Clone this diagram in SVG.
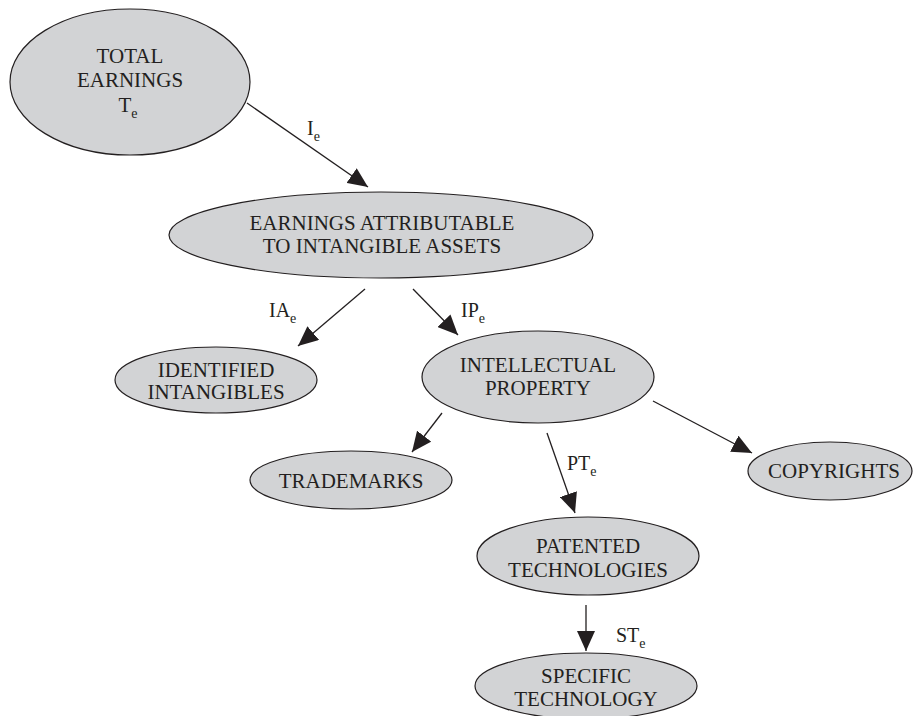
<svg xmlns="http://www.w3.org/2000/svg" width="914" height="716" viewBox="0 0 914 716">
  <style>
    .node ellipse { fill: #d2d3d5; stroke: #231f20; stroke-width: 1.2; }
    .edge { stroke: #231f20; stroke-width: 1.3; fill: none; marker-end: url(#head); }
  </style>
  <defs>
    <marker id="head" markerUnits="userSpaceOnUse" markerWidth="22" markerHeight="18" refX="20" refY="9" orient="auto">
      <path d="M0,0 L20,9 L0,18 Z" fill="#231f20"/>
    </marker>
  </defs>
  <rect width="914" height="716" fill="#ffffff"/>

  <!-- arrows and their share labels -->
  <g id="connectors">
    <line class="edge" x1="247" y1="103" x2="368" y2="187"/>
    <line class="edge" x1="365" y1="289" x2="298" y2="346"/>
    <line class="edge" x1="413" y1="289" x2="458" y2="335"/>
    <line class="edge" x1="442" y1="413" x2="412" y2="452"/>
    <line class="edge" x1="547" y1="433" x2="575" y2="513"/>
    <line class="edge" x1="653" y1="401" x2="752" y2="453"/>
    <line class="edge" x1="586" y1="605" x2="586" y2="651"/>
    <text x="307" y="135" font-family="Liberation Serif" font-size="20" fill="#231f20">I<tspan font-size="14" dy="6">e</tspan></text>
    <text x="269" y="317" font-family="Liberation Serif" font-size="20" fill="#231f20">IA<tspan font-size="14" dy="6">e</tspan></text>
    <text x="461" y="317" font-family="Liberation Serif" font-size="20" fill="#231f20">IP<tspan font-size="14" dy="6">e</tspan></text>
    <text x="567" y="470" font-family="Liberation Serif" font-size="20" fill="#231f20">PT<tspan font-size="14" dy="6">e</tspan></text>
    <text x="616" y="642" font-family="Liberation Serif" font-size="20" fill="#231f20">ST<tspan font-size="14" dy="6">e</tspan></text>
  </g>

  <g id="total-earnings" class="node">
    <ellipse cx="130" cy="82" rx="120" ry="73"/>
    <text x="130" y="63" font-family="Liberation Serif" font-size="21" fill="#231f20" text-anchor="middle">TOTAL</text>
    <text x="130" y="87" font-family="Liberation Serif" font-size="21" fill="#231f20" text-anchor="middle">EARNINGS</text>
    <text x="128" y="112" font-family="Liberation Serif" font-size="21" fill="#231f20" text-anchor="middle">T<tspan font-size="14" dy="6">e</tspan></text>
  </g>

  <g id="intangible-earnings" class="node">
    <ellipse cx="381" cy="235" rx="212" ry="43"/>
    <text x="382" y="230" font-family="Liberation Serif" font-size="21" fill="#231f20" text-anchor="middle">EARNINGS ATTRIBUTABLE</text>
    <text x="382" y="253" font-family="Liberation Serif" font-size="21" fill="#231f20" text-anchor="middle">TO INTANGIBLE ASSETS</text>
  </g>

  <g id="identified-intangibles" class="node">
    <ellipse cx="216" cy="380" rx="101" ry="33"/>
    <text x="216" y="377" font-family="Liberation Serif" font-size="21" fill="#231f20" text-anchor="middle">IDENTIFIED</text>
    <text x="216" y="399" font-family="Liberation Serif" font-size="21" fill="#231f20" text-anchor="middle">INTANGIBLES</text>
  </g>

  <g id="intellectual-property" class="node">
    <ellipse cx="538" cy="377" rx="116" ry="46"/>
    <text x="538" y="372" font-family="Liberation Serif" font-size="21" fill="#231f20" text-anchor="middle">INTELLECTUAL</text>
    <text x="538" y="395" font-family="Liberation Serif" font-size="21" fill="#231f20" text-anchor="middle">PROPERTY</text>
  </g>

  <g id="trademarks" class="node">
    <ellipse cx="351" cy="480" rx="101" ry="29"/>
    <text x="351" y="488" font-family="Liberation Serif" font-size="21" fill="#231f20" text-anchor="middle">TRADEMARKS</text>
  </g>

  <g id="copyrights" class="node">
    <ellipse cx="830" cy="471" rx="82" ry="29"/>
    <text x="834" y="478" font-family="Liberation Serif" font-size="21" fill="#231f20" text-anchor="middle">COPYRIGHTS</text>
  </g>

  <g id="patented-technologies" class="node">
    <ellipse cx="588" cy="556" rx="111" ry="39"/>
    <text x="588" y="553" font-family="Liberation Serif" font-size="21" fill="#231f20" text-anchor="middle">PATENTED</text>
    <text x="588" y="577" font-family="Liberation Serif" font-size="21" fill="#231f20" text-anchor="middle">TECHNOLOGIES</text>
  </g>

  <g id="specific-technology" class="node">
    <ellipse cx="586" cy="686" rx="111" ry="33"/>
    <text x="586" y="683" font-family="Liberation Serif" font-size="21" fill="#231f20" text-anchor="middle">SPECIFIC</text>
    <text x="586" y="706" font-family="Liberation Serif" font-size="21" fill="#231f20" text-anchor="middle">TECHNOLOGY</text>
  </g>
</svg>
